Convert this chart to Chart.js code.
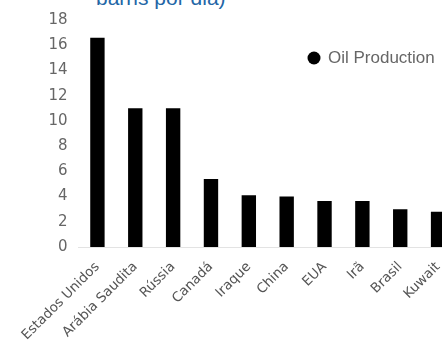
<!DOCTYPE html>
<html>
<head>
<meta charset="utf-8">
<script src="https://cdn.jsdelivr.net/npm/chart.js@4.4.1/dist/chart.umd.min.js"></script>
<style>
  body { margin: 0; background: #fff; overflow: hidden; }
  #wrap { position: relative; width: 442px; height: 343px; overflow: hidden; }
  .subtitle {
    position: absolute; left: 96px; top: -14px;
    font: 21px "Liberation Sans", Arial, sans-serif; color: #2366a6;
    white-space: nowrap;
  }
  #box { position: absolute; left: 0; top: 0; width: 480px; height: 343px; }
</style>
</head>
<body>
<div id="wrap">
  <div class="subtitle">barris por dia)</div>
  <div id="box"><canvas id="chart"></canvas></div>
</div>
<script>
const countries = ["Estados Unidos", "Arábia Saudita", "Rússia", "Canadá", "Iraque", "China", "EUA", "Irã", "Brasil", "Kuwait"];
const production = [16.6, 11.0, 11.0, 5.4, 4.1, 4.0, 3.65, 3.65, 3.0, 2.8];
const seriesName = "Oil Production";
const yTicks = [0, 2, 4, 6, 8, 10, 12, 14, 16, 18];

const GRAY = "#666";

// draws the single legend entry as a dot + label inside the plot
const dotLegend = {
  id: "dotLegend",
  afterDraw(chart) {
    const ds = chart.data.datasets[0];
    const ctx = chart.ctx;
    ctx.save();
    ctx.fillStyle = ds.backgroundColor;
    ctx.beginPath();
    ctx.arc(314, 58, 6.5, 0, Math.PI * 2);
    ctx.fill();
    ctx.font = '17px "Liberation Sans", Arial, sans-serif';
    ctx.fillStyle = GRAY;
    ctx.textBaseline = "middle";
    ctx.fillText(ds.label, 328, 58);
    ctx.restore();
  },
};

new Chart(document.getElementById("chart"), {
  type: "bar",
  data: {
    labels: countries,
    datasets: [
      {
        label: seriesName,
        data: production,
        backgroundColor: "#000",
        categoryPercentage: 1,
        barPercentage: 0.38,
      },
    ],
  },
  options: {
    responsive: true,
    maintainAspectRatio: false,
    animation: false,
    layout: { padding: { top: 20, right: 23, left: 0, bottom: 0 } },
    scales: {
      x: {
        grid: { display: false, drawTicks: false },
        border: { display: true, color: "#e3e3e3", width: 1 },
        ticks: {
          color: "#555",
          font: { family: "DejaVu Sans", size: 13.5 },
          minRotation: 45,
          maxRotation: 45,
          padding: 12,
          autoSkip: false,
        },
        afterFit: (s) => { s.height = 96; },
      },
      y: {
        min: 0,
        max: 18,
        grid: { display: false, drawTicks: false },
        border: { display: false },
        afterBuildTicks: (s) => { s.ticks = yTicks.map((v) => ({ value: v })); },
        ticks: {
          color: GRAY,
          font: { family: "DejaVu Sans", size: 15 },
          padding: 11,
        },
        afterFit: (s) => { s.width = 78.5; },
      },
    },
    plugins: {
      legend: { display: false },
      tooltip: { enabled: false },
    },
  },
  plugins: [dotLegend],
});
</script>
</body>
</html>
